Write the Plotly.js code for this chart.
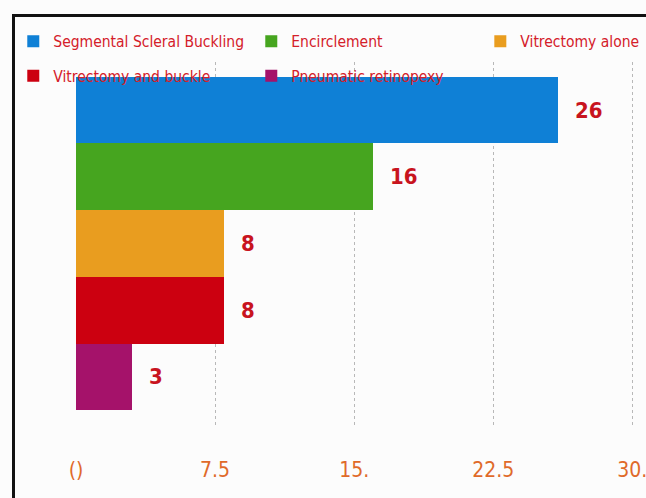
<!DOCTYPE html>
<html>
<head>
<meta charset="utf-8">
<script src="https://cdn.plot.ly/plotly-3.0.1.min.js"></script>
<style>
html,body{margin:0;padding:0;background:#fcfcfc;}
#wrap{position:relative;width:646px;height:498px;overflow:hidden;}
#chart{position:absolute;left:0;top:0;width:646px;height:498px;}
#frame{position:absolute;left:12px;top:14px;width:640px;height:490px;border-left:3px solid #111;border-top:3px solid #111;pointer-events:none;}
</style>
</head>
<body>
<div id="wrap"><div id="chart"></div><div id="frame"></div></div>
<script>
const categories = ["Segmental Scleral Buckling", "Encirclement", "Vitrectomy alone", "Vitrectomy and buckle", "Pneumatic retinopexy"];
const values = [26, 16, 8, 8, 3];
const colors = ["#0f80d6", "#46a51f", "#e99d1f", "#cc0010", "#a5126a"];
const tickVals = [0, 7.5, 15, 22.5, 30];
const tickLabels = ["()", "7.5", "15.", "22.5", "30."];

const FONT = "DejaVu Sans Condensed, Liberation Sans Narrow, sans-serif";

// legend placement (paper coords relative to plot area), one legend per entry
const legendX = [-0.112, 0.313, 0.722, -0.112, 0.313];
const legendY = [1.103, 1.103, 1.103, 1.008, 1.008];
const legendIds = ["legend", "legend2", "legend3", "legend4", "legend5"];

const traces = categories.map((c, i) => ({
  type: "bar",
  orientation: "h",
  name: c,
  x: [values[i]],
  y: [c],
  marker: {color: colors[i], line: {width: 0}},
  legend: legendIds[i],
  hoverinfo: "x+y"
}));

const annotations = categories.map((c, i) => ({
  x: values[i], y: c, xref: "x", yref: "y",
  text: String(values[i]),
  showarrow: false, xanchor: "left", xshift: 15,
  font: {family: FONT, size: 22, color: "#c8141e", weight: "bold"}
}));

const layout = {
  width: 646, height: 498,
  margin: {l: 76, r: 10, t: 62, b: 73, autoexpand: false},
  paper_bgcolor: "#fcfcfc",
  plot_bgcolor: "#fcfcfc",
  bargap: 0,
  barmode: "group",
  showlegend: true,
  xaxis: {
    range: [0, 30.2],
    tickvals: tickVals, ticktext: tickLabels,
    tickfont: {family: FONT, size: 21, color: "#e06a2a"},
    ticks: "outside", ticklen: 26, tickcolor: "rgba(0,0,0,0)",
    ticklabeloverflow: "allow",
    showgrid: true, gridcolor: "#b8b8b8", gridwidth: 1, griddash: "dot",
    zeroline: false, showline: false, fixedrange: true, automargin: false
  },
  yaxis: {
    type: "category",
    categoryorder: "array", categoryarray: categories,
    range: [4.72, -0.72],
    showticklabels: false, showgrid: false, zeroline: false, showline: false,
    fixedrange: true, automargin: false
  },
  annotations: annotations
};
legendIds.forEach((id, i) => {
  layout[id] = {
    x: legendX[i], y: legendY[i], xanchor: "left", yanchor: "top",
    orientation: "h", bgcolor: "rgba(0,0,0,0)",
    font: {family: FONT, size: 15.5, color: "#d4202a"},
    itemwidth: 30
  };
});

Plotly.newPlot("chart", traces, layout, {displayModeBar: false, staticPlot: true});
</script>
</body>
</html>
